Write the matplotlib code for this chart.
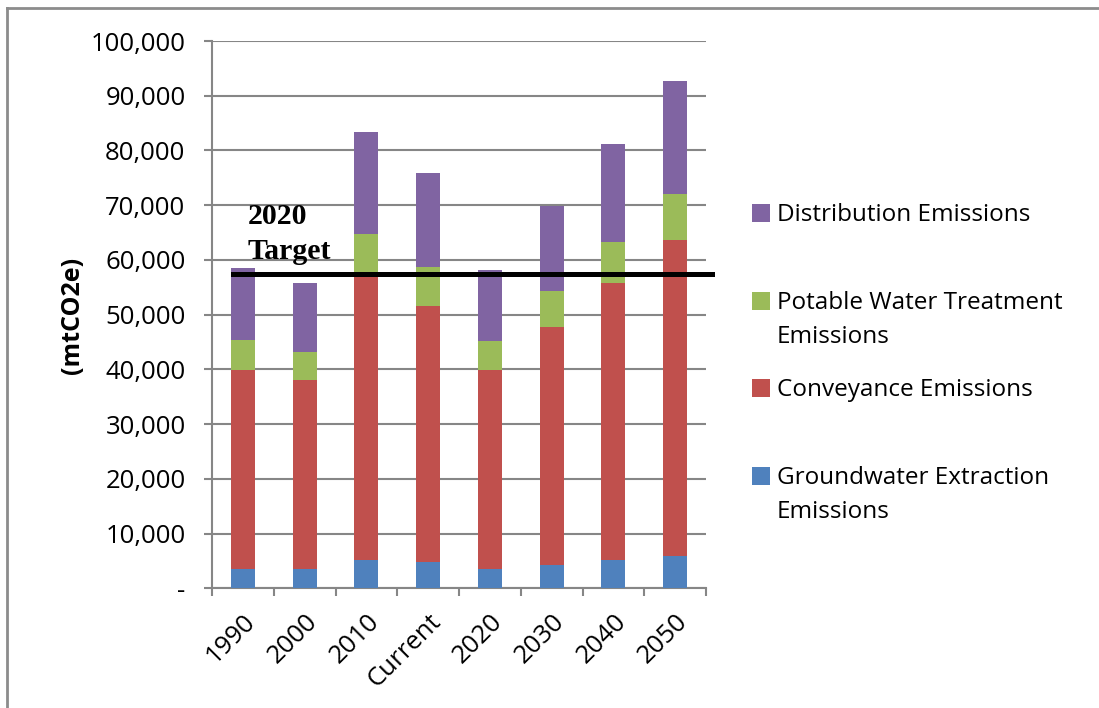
import matplotlib
matplotlib.use("Agg")
import matplotlib.pyplot as plt
from matplotlib.patches import Rectangle
from matplotlib.lines import Line2D
from matplotlib.ticker import FuncFormatter

categories = ["1990", "2000", "2010", "Current", "2020", "2030", "2040", "2050"]
groundwater = [3500, 3500, 5150, 4800, 3500, 4200, 5200, 5900]
conveyance = [36300, 34500, 51650, 46800, 36300, 43500, 50500, 57700]
potable = [5600, 5100, 7900, 7100, 5300, 6600, 7600, 8400]
distribution = [13100, 12700, 18600, 17100, 13100, 15500, 17900, 20700]
target_value = 57500

series_names = ["Groundwater Extraction\nEmissions", "Conveyance Emissions",
                "Potable Water Treatment\nEmissions", "Distribution Emissions"]
colors = ["#4F81BD", "#C0504D", "#9BBB59", "#8064A2"]

FONT = "Open Sans"
W, H = 1099, 708
fig = plt.figure(figsize=(W / 100, H / 100), dpi=100)
ax = fig.add_axes([212 / W, 1 - 588.3 / H, (706 - 212) / W, (588.3 - 41) / H])

x = list(range(len(categories)))
bottom = [0] * len(categories)
for vals, col in zip([groundwater, conveyance, potable, distribution], colors):
    ax.bar(x, vals, width=0.39, bottom=bottom, color=col, zorder=3)
    bottom = [b + v for b, v in zip(bottom, vals)]

ax.set_xlim(-0.5, len(categories) - 0.5)
ax.set_ylim(0, 100000)
ax.set_yticks(range(0, 100001, 10000))
ax.yaxis.set_major_formatter(FuncFormatter(lambda v, p: "-" if v == 0 else f"{int(v):,}"))
ax.grid(axis="y", color="#868686", linewidth=1.5, zorder=0)
for s in ["top", "right"]:
    ax.spines[s].set_visible(False)
for s in ["left", "bottom"]:
    ax.spines[s].set_color("#868686")
    ax.spines[s].set_linewidth(1.5)

ax.set_xticks(x)
ax.set_xticklabels(categories, rotation=45, ha="right", rotation_mode="anchor",
                   fontsize=18.5, family=FONT)
ax.set_xticks([i - 0.5 for i in range(len(categories) + 1)], minor=True)
ax.tick_params(axis="x", which="major", length=0, pad=15)
ax.tick_params(axis="x", which="minor", length=6, width=1.5, color="#868686")
ax.tick_params(axis="y", length=6, width=1.5, color="#868686", pad=13, labelsize=18.5)
for lab in ax.get_yticklabels():
    lab.set_family(FONT)

# target line
ax.add_line(Line2D([-0.16, 7.6], [target_value, target_value], color="black",
                   linewidth=3.6, zorder=5, clip_on=False))
ax.text(0.083, 66500, "2020", family="Liberation Serif", fontweight="bold",
        fontsize=21.5, va="baseline", ha="left", zorder=6)
ax.text(0.083, 60150, "Target", family="Liberation Serif", fontweight="bold",
        fontsize=21.5, va="baseline", ha="left", zorder=6)

fig.text(72 / W, 1 - 315 / H, "(mtCO2e)", rotation=90, ha="center", va="center",
         fontsize=18, fontweight="bold", family=FONT)

# legend (top to bottom)
legend_items = [
    (series_names[3], colors[3], 204),
    (series_names[2], colors[2], 292),
    (series_names[1], colors[1], 379),
    (series_names[0], colors[0], 467),
]
for label, col, ytop in legend_items:
    fig.patches.append(Rectangle((752 / W, 1 - (ytop + 18) / H), 18 / W, 18 / H,
                                 transform=fig.transFigure, facecolor=col,
                                 edgecolor="none"))
    fig.text(777 / W, 1 - (ytop - 1) / H, label, ha="left", va="top",
             fontsize=17.5, family=FONT, linespacing=1.55,
             transform=fig.transFigure)

# outer frame
fig.add_artist(Line2D([7 / W, 1.0], [1 - 8 / H, 1 - 8 / H], color="#8c8c8c",
                      linewidth=2, transform=fig.transFigure))
fig.add_artist(Line2D([7 / W, 7 / W], [0, 1 - 8 / H], color="#8c8c8c",
                      linewidth=2, transform=fig.transFigure))

fig.savefig("out.png", dpi=100)
